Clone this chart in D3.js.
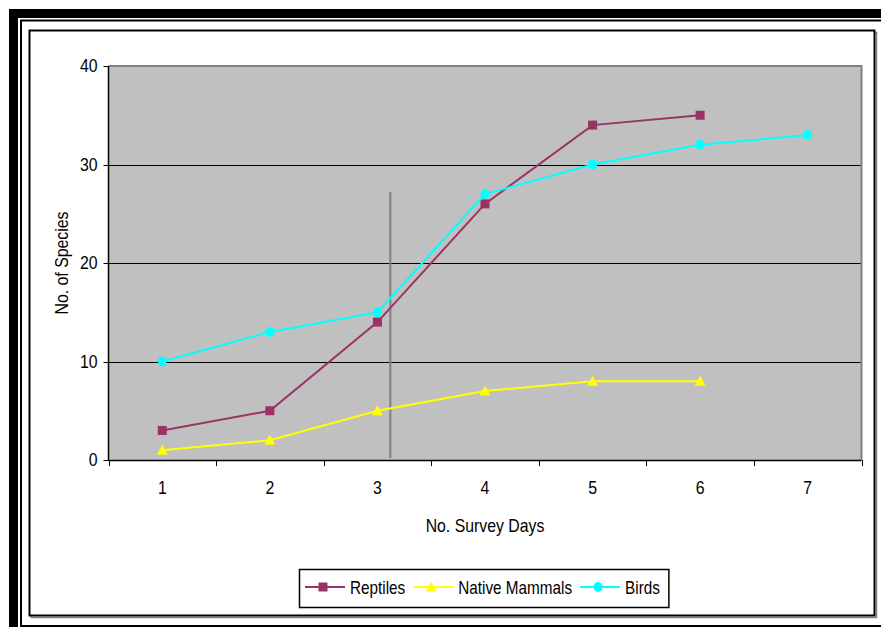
<!DOCTYPE html>
<html>
<head>
<meta charset="utf-8">
<script src="https://cdn.jsdelivr.net/npm/d3@7/dist/d3.min.js"></script>
<style>
  html, body { margin: 0; padding: 0; background: #ffffff; }
  svg { display: block; }
  text { font-family: "Liberation Sans", Arial, sans-serif; fill: #000; }
</style>
</head>
<body>
<svg id="chart" width="881" height="627"></svg>
<script>
// Survey days (categories)
const days = ["1", "2", "3", "4", "5", "6", "7"];

// Cumulative species counts per survey day
const reptiles = [3, 5, 14, 26, 34, 35];
const nativeMammals = [1, 2, 5, 7, 8, 8];
const birds = [10, 13, 15, 27, 30, 32, 33];

// Y axis ticks
const yTicks = [0, 10, 20, 30, 40];

// Reference marker drawn between day 3 and day 4
const markerDay = 3.12;
const markerTop = 27.2;

const seriesNames = ["Reptiles", "Native Mammals", "Birds"];
const seriesColors = ["#993366", "#FFFF00", "#00FFFF"];
const seriesShapes = ["square", "triangle", "circle"];

const series = [reptiles, nativeMammals, birds].map((vals, i) => ({
  name: seriesNames[i],
  color: seriesColors[i],
  shape: seriesShapes[i],
  values: vals.map((v, j) => ({ day: days[j], value: v }))
}));

const svg = d3.select("#chart");
const TX = 0.88;   // horizontal squeeze for axis labels
const TXL = 0.85;  // horizontal squeeze for legend labels

// ---- outer frame ----
svg.append("rect").attr("x", 9).attr("y", 9).attr("width", 872).attr("height", 9).attr("fill", "#000");
svg.append("rect").attr("x", 9).attr("y", 9).attr("width", 9).attr("height", 618).attr("fill", "#000");
svg.append("path").attr("d", "M881,20.5 H21 V625").attr("fill", "none").attr("stroke", "#000").attr("stroke-width", 2);
svg.append("rect").attr("x", 20).attr("y", 625).attr("width", 861).attr("height", 2).attr("fill", "#000");

// chart area frame with a soft shadow
svg.append("rect").attr("x", 31.5).attr("y", 32.5).attr("width", 845).attr("height", 585)
  .attr("fill", "none").attr("stroke", "#808080").attr("stroke-width", 1.5);
svg.append("rect").attr("x", 29.5).attr("y", 30.5).attr("width", 845).attr("height", 585)
  .attr("fill", "#fff").attr("stroke", "#000").attr("stroke-width", 2);

// ---- plot area ----
const plotLeft = 108.5, plotRight = 861.5, plotTop = 66, plotBottom = 460;

const x = d3.scaleBand().domain(days).range([plotLeft, plotRight]).paddingInner(0).paddingOuter(0);
const y = d3.scaleLinear().domain([0, 40]).range([plotBottom, plotTop]);
const cx = d => x(d) + x.bandwidth() / 2;

svg.append("rect").attr("x", plotLeft).attr("y", plotTop)
  .attr("width", plotRight - plotLeft).attr("height", plotBottom - plotTop)
  .attr("fill", "#C0C0C0");

// gridlines
svg.append("g").selectAll("line").data(yTicks.filter(t => t > 0 && t < 40)).join("line")
  .attr("x1", plotLeft).attr("x2", plotRight)
  .attr("y1", d => Math.round(y(d)) + 0.5).attr("y2", d => Math.round(y(d)) + 0.5)
  .attr("stroke", "#000").attr("stroke-width", 1);

// top and right plot border (grey)
svg.append("path")
  .attr("d", `M${plotLeft},${plotTop} H${plotRight} V${plotBottom}`)
  .attr("fill", "none").attr("stroke", "#808080").attr("stroke-width", 2);

// y axis
const yAxis = svg.append("g");
yAxis.append("line").attr("x1", plotLeft).attr("x2", plotLeft).attr("y1", plotTop).attr("y2", plotBottom + 1)
  .attr("stroke", "#000").attr("stroke-width", 1.5);
yAxis.selectAll("line.tick").data(yTicks).join("line").attr("class", "tick")
  .attr("x1", plotLeft - 5).attr("x2", plotLeft)
  .attr("y1", d => Math.round(y(d)) + 0.5).attr("y2", d => Math.round(y(d)) + 0.5)
  .attr("stroke", "#000").attr("stroke-width", 1);
yAxis.selectAll("text").data(yTicks).join("text")
  .attr("transform", d => `translate(${plotLeft - 11},${y(d)}) scale(${TX},1)`)
  .attr("text-anchor", "end").attr("dy", "0.36em")
  .style("font-size", "18px")
  .text(d => d);

// x axis
const xAxis = svg.append("g");
xAxis.append("line").attr("x1", plotLeft).attr("x2", plotRight)
  .attr("y1", plotBottom + 0.5).attr("y2", plotBottom + 0.5)
  .attr("stroke", "#000").attr("stroke-width", 1.5);
const xBounds = days.map(d => x(d)).concat([x(days[days.length - 1]) + x.bandwidth()]);
xAxis.selectAll("line.tick").data(xBounds).join("line").attr("class", "tick")
  .attr("x1", d => Math.round(d) + 0.5).attr("x2", d => Math.round(d) + 0.5)
  .attr("y1", plotBottom).attr("y2", plotBottom + 6)
  .attr("stroke", "#000").attr("stroke-width", 1);
xAxis.selectAll("text").data(days).join("text")
  .attr("transform", d => `translate(${cx(d)},494) scale(${TX},1)`)
  .attr("text-anchor", "middle")
  .style("font-size", "18px")
  .text(d => d);

// axis titles
svg.append("text")
  .attr("transform", `translate(485,532) scale(${TX},1)`)
  .attr("text-anchor", "middle").style("font-size", "18px")
  .text("No. Survey Days");
svg.append("text")
  .attr("transform", `translate(68,263) rotate(-90) scale(${TX},1)`)
  .attr("text-anchor", "middle").style("font-size", "18px")
  .text("No. of Species");

// vertical reference marker
const markerX = x("3") + x.bandwidth() * (0.5 + (markerDay - 3));
svg.append("line")
  .attr("x1", markerX).attr("x2", markerX)
  .attr("y1", y(markerTop)).attr("y2", plotBottom - 2)
  .attr("stroke", "#808080").attr("stroke-width", 2);

// ---- markers ----
function drawMarker(g, shape, color, px, py) {
  if (shape === "square") {
    g.append("rect").attr("x", px - 4.5).attr("y", py - 4.5).attr("width", 9).attr("height", 9).attr("fill", color);
  } else if (shape === "triangle") {
    g.append("path").attr("d", `M${px},${py - 5.5} L${px + 5.5},${py + 4.5} L${px - 5.5},${py + 4.5} Z`).attr("fill", color);
  } else {
    g.append("ellipse").attr("cx", px).attr("cy", py).attr("rx", 4.5).attr("ry", 5).attr("fill", color);
  }
}

const line = d3.line().x(d => cx(d.day)).y(d => y(d.value));
series.forEach(s => {
  const g = svg.append("g");
  g.append("path").datum(s.values).attr("d", line)
    .attr("fill", "none").attr("stroke", s.color).attr("stroke-width", 2);
  s.values.forEach(p => drawMarker(g, s.shape, s.color, cx(p.day), y(p.value)));
});

// ---- legend ----
const legend = svg.append("g");
const legBox = legend.append("rect")
  .attr("x", 299.5).attr("y", 569.5).attr("height", 38).attr("fill", "#fff")
  .attr("stroke", "#000").attr("stroke-width", 1.5);
let lx = 305;
const ly = 587;
let lastEnd = lx;
series.forEach(s => {
  legend.append("line").attr("x1", lx).attr("x2", lx + 40).attr("y1", ly).attr("y2", ly)
    .attr("stroke", s.color).attr("stroke-width", 2);
  drawMarker(legend, s.shape, s.color, lx + 18, ly);
  const t = legend.append("text")
    .attr("transform", `translate(${lx + 45},${ly + 6.5}) scale(${TXL},1)`)
    .style("font-size", "18px").text(s.name);
  const w = t.node().getComputedTextLength() * TXL;
  lastEnd = lx + 45 + w;
  lx = lastEnd + 8;
});
legBox.attr("width", lastEnd + 9 - 299.5);
</script>
</body>
</html>
